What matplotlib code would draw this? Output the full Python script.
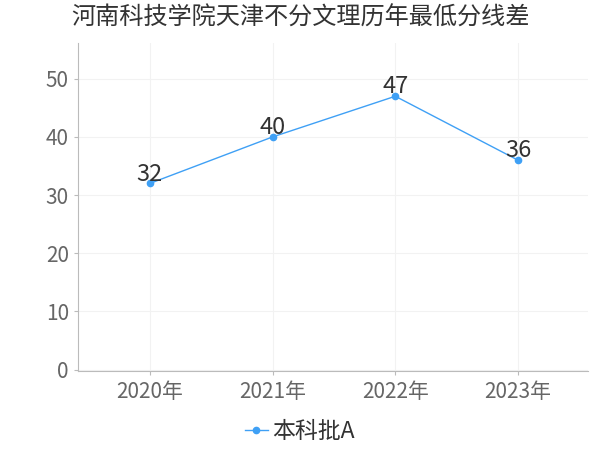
import matplotlib
matplotlib.use("Agg")
import matplotlib.pyplot as plt

plt.rcParams['font.family'] = ['Noto Sans CJK SC', 'DejaVu Sans']

years = ['2020年', '2021年', '2022年', '2023年']
scores = [32, 40, 47, 36]
series_name = '本科批A'
title = '河南科技学院天津不分文理历年最低分线差'

fig = plt.figure(figsize=(6, 4.5), dpi=100)
ax = fig.add_axes([0.13, 0.175, 0.85, 0.73])

x = list(range(len(years)))
ax.plot(x, scores, color='#3fa0f5', linewidth=1, marker='o', markersize=4.5,
        label=series_name, zorder=3)
for xi, v in zip(x, scores):
    ax.annotate(str(v), (xi, v), xytext=(0, -1.5), textcoords='offset points',
                ha='center', va='bottom', fontsize=17, color='#333333')

ax.set_xlim(-0.585, 3.57)
ax.set_ylim(-0.3, 56.2)
ax.set_xticks(x)
ax.set_xticklabels(years)
ax.set_yticks([0, 10, 20, 30, 40, 50])
ax.tick_params(axis='both', labelsize=15, colors='#bbbbbb', labelcolor='#666666', length=3)
ax.tick_params(axis='x', pad=4)
ax.grid(True, color='#f2f2f2', linewidth=0.8)
ax.set_axisbelow(True)
for s in ['top', 'right']:
    ax.spines[s].set_visible(False)
for s in ['left', 'bottom']:
    ax.spines[s].set_color('#bbbbbb')

fig.suptitle(title, fontsize=17.4, color='#333333', y=0.99)
fig.legend(loc='center', bbox_to_anchor=(0.5, 0.04), frameon=False,
           fontsize=16.5, handlelength=1.0, handletextpad=0.2, labelcolor='#333333')

fig.savefig('out.png', dpi=100)
